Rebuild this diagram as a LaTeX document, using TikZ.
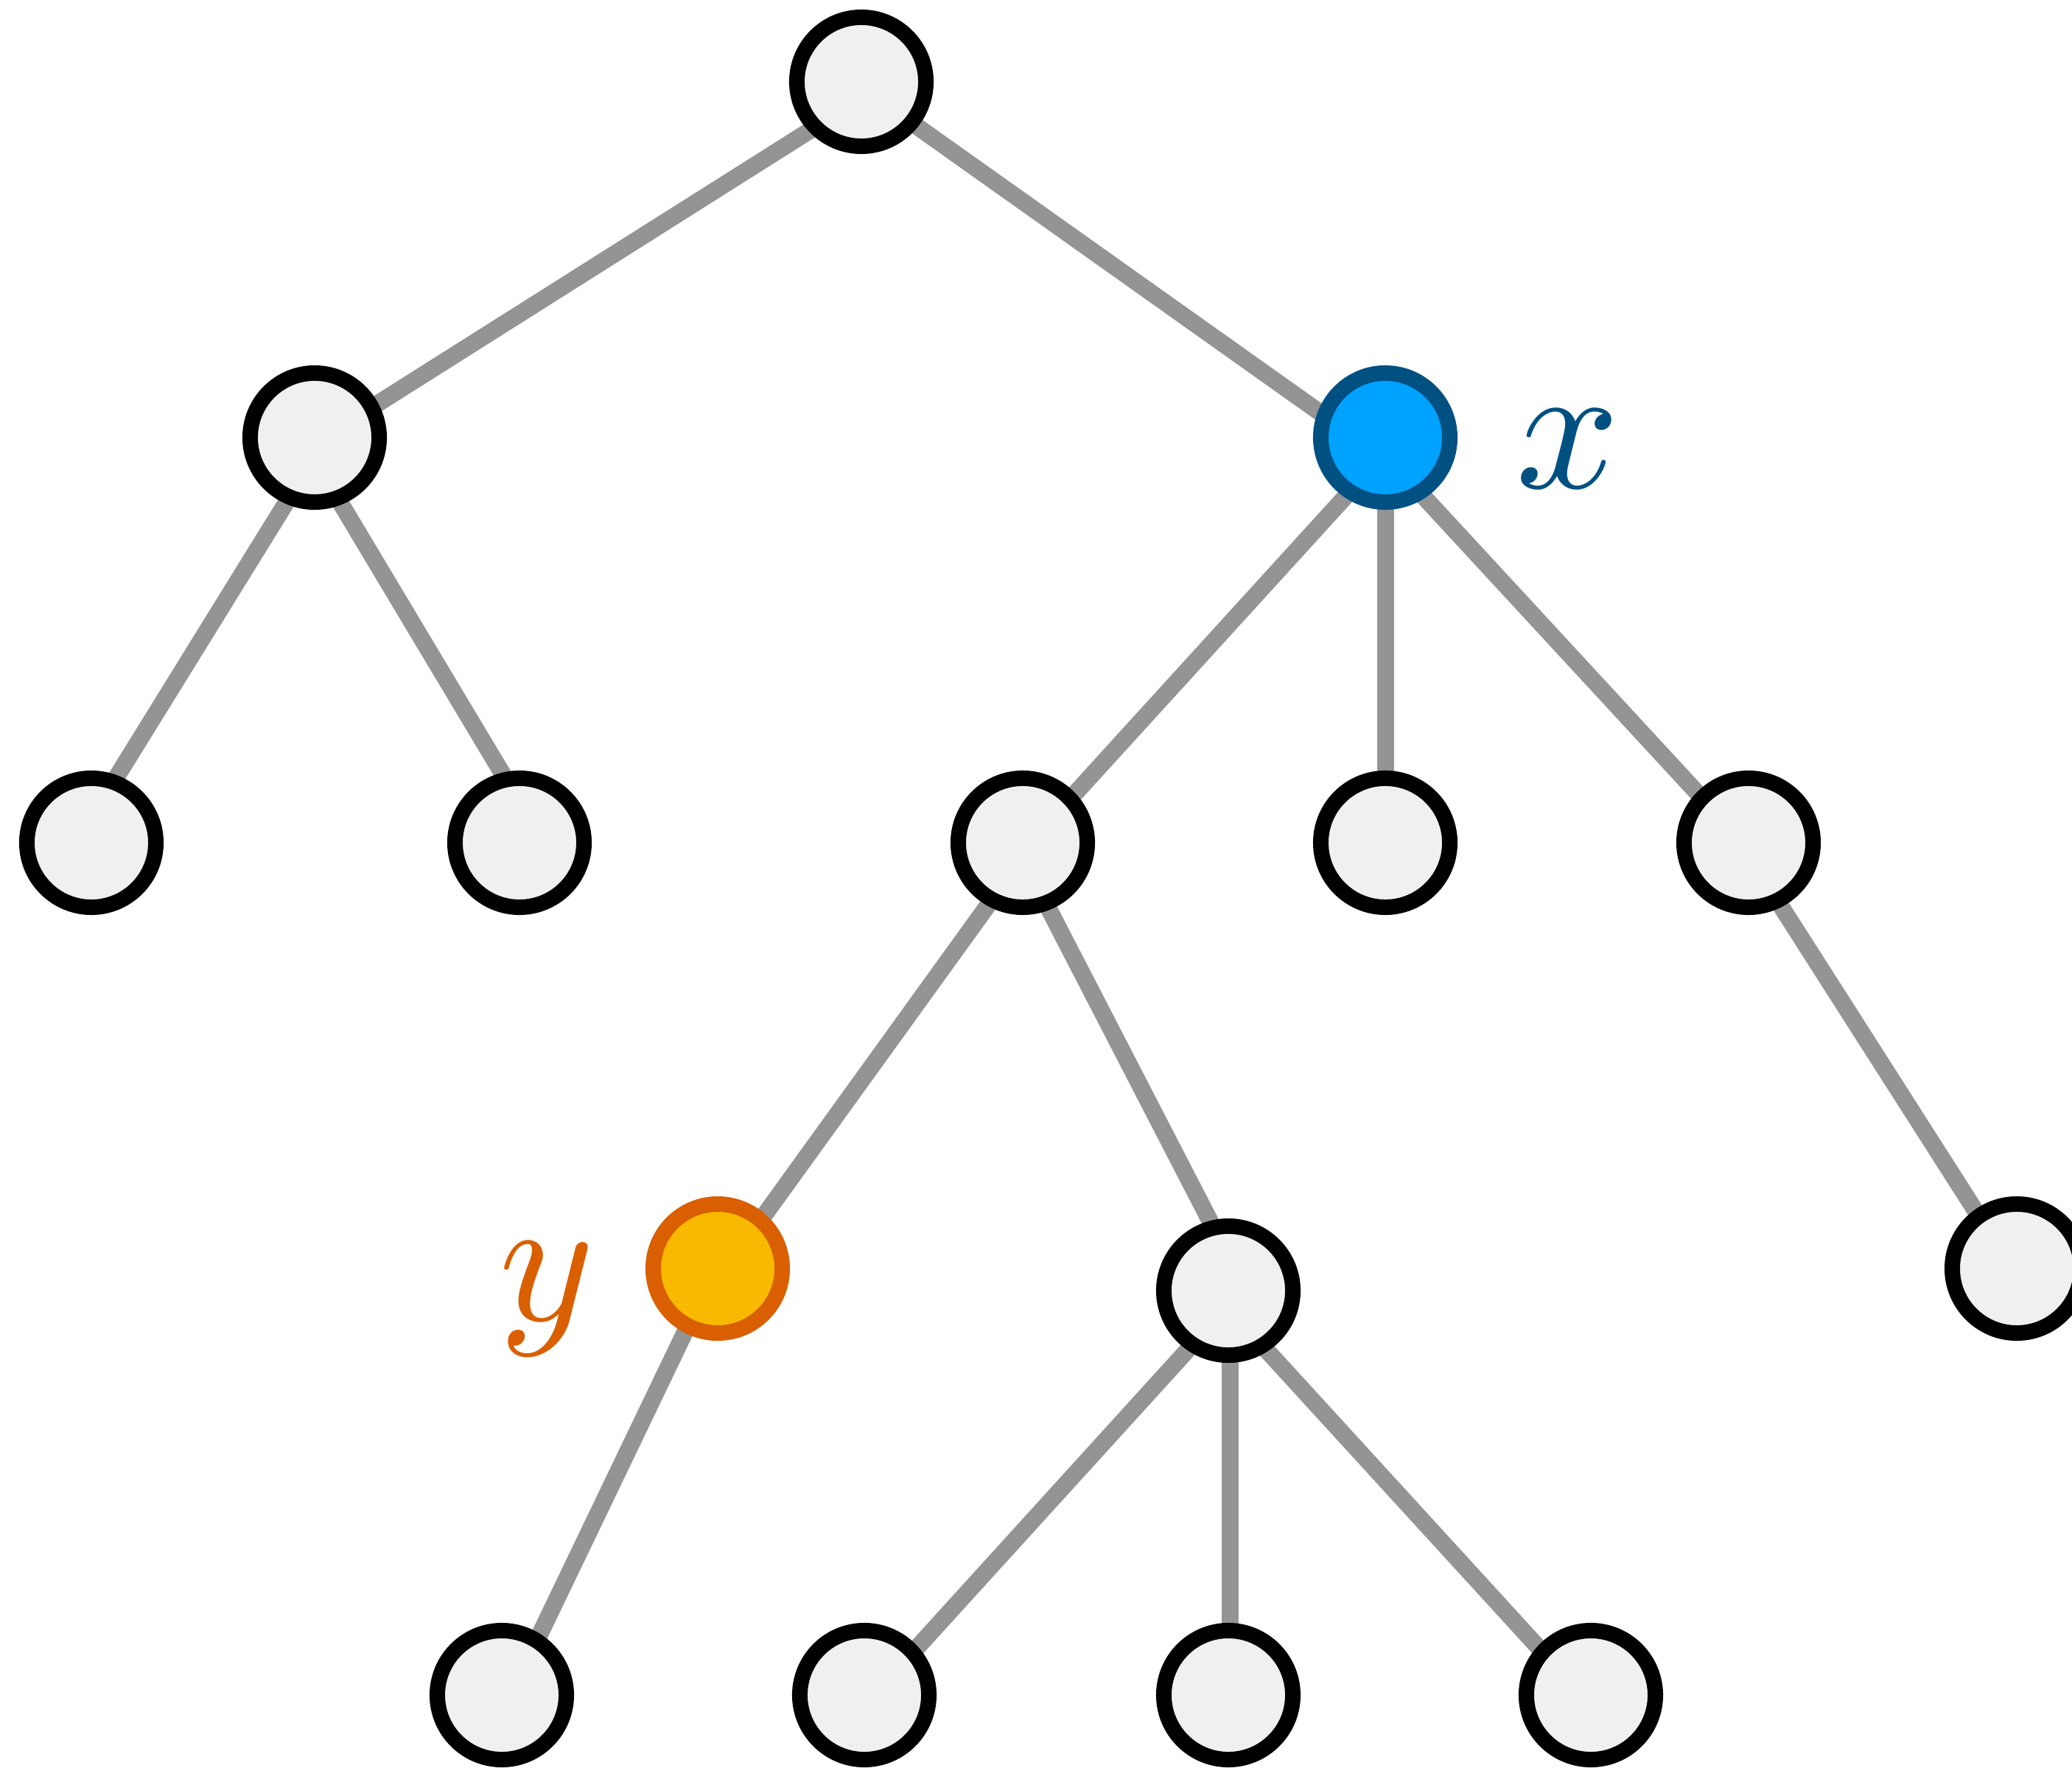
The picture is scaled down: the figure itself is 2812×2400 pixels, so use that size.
\documentclass[tikz,border=0pt]{standalone}
\usetikzlibrary{backgrounds}
\definecolor{ink}{HTML}{000000}
\definecolor{linkc}{HTML}{949494}
\definecolor{vfill}{HTML}{F0F0F0}
\definecolor{xring}{HTML}{005082}
\definecolor{xfill}{HTML}{00A2FF}
\definecolor{yring}{HTML}{D95F00}
\definecolor{yfill}{HTML}{F8B900}
\tikzset{
  vtx/.style={circle,draw=ink,fill=vfill,line width=0.21cm,minimum size=1.75cm,inner sep=0pt},
  xvtx/.style={vtx,draw=xring,fill=xfill},
  yvtx/.style={vtx,draw=yring,fill=yfill},
  link/.style={linkc,line width=0.23cm},
  lbl/.style={scale=7,inner sep=0pt,anchor=base},
}
\begin{document}
\begin{tikzpicture}[x=0.01cm,y=-0.01cm]
  \useasboundingbox (0,0) rectangle (2812,2400);
  % levels 0 and 1
  \node[vtx] (root) at (1169,111) {};
  \node[vtx] (lft) at (427,594) {};
  \node[xvtx] (xv) at (1880,594) {};
  % level 2
  \node[vtx] (ll) at (124,1144) {};
  \node[vtx] (lr) at (705,1144) {};
  \node[vtx] (mid) at (1388,1144) {};
  \node[vtx] (xc) at (1880,1144) {};
  \node[vtx] (rgt) at (2373,1144) {};
  % level 3
  \node[yvtx] (yv) at (974,1722) {};
  \node[vtx] (mc) at (1667,1752) {};
  \node[vtx] (far) at (2737,1722) {};
  % level 4
  \node[vtx] (b1) at (681,2301) {};
  \node[vtx] (b2) at (1173,2301) {};
  \node[vtx] (b3) at (1667,2301) {};
  \node[vtx] (b4) at (2159,2301) {};
  % labels
  \node[lbl,xring] (xl) at (2128,662) {$x$};
  \node[lbl,yring] (yl) at (742,1792) {$y$};
  % links, shifted ends as in the sketch
  \begin{scope}[on background layer]
    \foreach \p/\c/\ax/\ay/\bx/\by in {root/lft/0/22/0/8, root/xv/0/7/0/29,
        lft/ll/16/0/-21/0, lft/lr/-18/0/33/0, xv/mid/19/0/10/0, xv/xc/0/0/0/0,
        xv/rgt/-22/0/-7/0, rgt/far/-11/0/-6/0, mid/yv/14/0/11/0, mid/mc/-11/0/24/0,
        yv/b1/-3/0/12/0, mc/b2/18/0/13/0, mc/b3/2/0/2/0, mc/b4/-22/0/-12/0}
      \draw[link] ([shift={(\ax,\ay)}]\p.center) -- ([shift={(\bx,\by)}]\c.center);
  \end{scope}
\end{tikzpicture}
\end{document}
